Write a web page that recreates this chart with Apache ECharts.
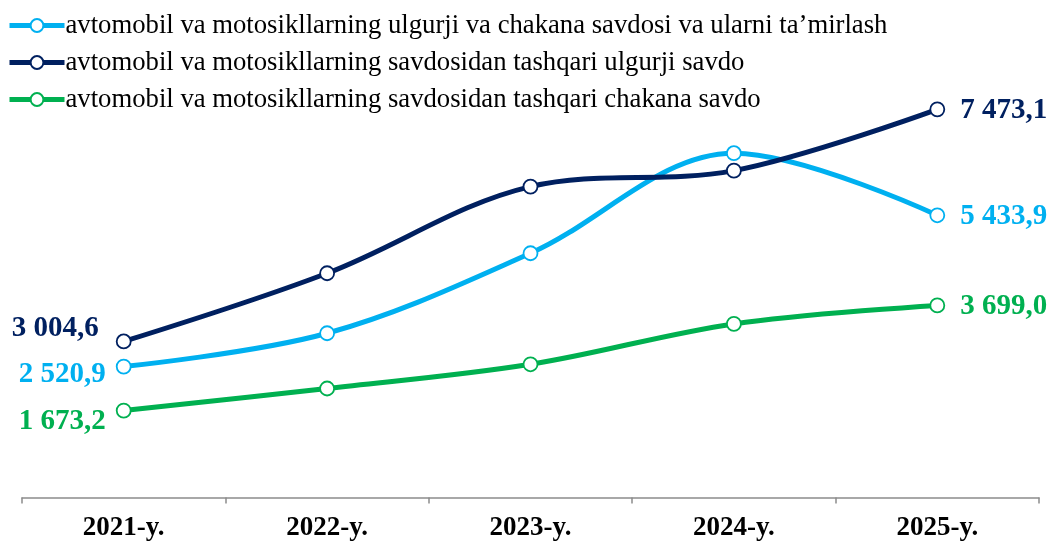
<!DOCTYPE html>
<html><head><meta charset="utf-8">
<script src="https://cdn.jsdelivr.net/npm/echarts@6/dist/echarts.min.js"></script>
<style>html,body{margin:0;padding:0;background:#fff}#c{width:1051px;height:543px}</style>
</head><body><div id="c"></div>
<script>
const categories = ['2021-y.', '2022-y.', '2023-y.', '2024-y.', '2025-y.'];
const seriesNames = [
  'avtomobil va motosikllarning ulgurji va chakana savdosi va ularni ta’mirlash',
  'avtomobil va motosikllarning savdosidan tashqari ulgurji savdo',
  'avtomobil va motosikllarning savdosidan tashqari chakana savdo'
];
const repairValues = [2520.9, 3162, 4703, 6629, 5433.9];
const wholesaleValues = [3004.6, 4318, 5986, 6294, 7473.1];
const retailValues = [1673.2, 2099, 2565, 3342, 3699.0];
const colors = ['#00B0F0', '#002060', '#00B050'];

function fmt(v) {
  const s = v.toFixed(1).split('.');
  return s[0].replace(/\B(?=(\d{3})+(?!\d))/g, ' ') + ',' + s[1];
}
const firstLabelOffsets = [[0, 8], [0, -13], [0, 11]];
const firstLabelDist = [10, 17, 10];
function mkData(vals, k) {
  const color = colors[k];
  return vals.map((v, i) => {
    const d = { value: v };
    if (i === 0 || i === vals.length - 1) {
      d.label = {
        show: true,
        position: i === 0 ? 'left' : 'right',
        distance: i === 0 ? firstLabelDist[k] : 15,
        offset: i === 0 ? firstLabelOffsets[k] : [0, 1],
        formatter: p => fmt(p.value),
        color: color,
        fontFamily: 'Liberation Serif',
        fontWeight: 'bold',
        fontSize: 29
      };
    }
    return d;
  });
}
const allVals = [repairValues, wholesaleValues, retailValues];
const chart = echarts.init(document.getElementById('c'));
chart.setOption({
  animation: false,
  legend: {
    orient: 'vertical',
    left: 2,
    top: 7,
    itemWidth: 55,
    itemHeight: 16,
    itemGap: 10,
    lineStyle: { width: 5 },
    textStyle: { fontFamily: 'Liberation Serif', fontSize: 26.7, lineHeight: 26, color: '#000', padding: [0, 0, 0, -4] },
    data: seriesNames
  },
  grid: { left: 22, right: 12, top: 82, bottom: 45.5, containLabel: false, outerBoundsMode: 'none' },
  xAxis: {
    type: 'category',
    data: categories,
    boundaryGap: true,
    axisLine: { lineStyle: { color: '#8c8c8c', width: 1.5 } },
    axisTick: { show: true, length: 6, lineStyle: { color: '#8c8c8c', width: 1.5 } },
    axisLabel: { fontFamily: 'Liberation Serif', fontWeight: 'bold', fontSize: 27, lineHeight: 27, color: '#000', margin: 17 }
  },
  yAxis: { type: 'value', min: 0, max: 8000, show: false, splitLine: { show: false } },
  series: seriesNames.map((n, k) => ({
    name: n,
    type: 'line',
    smooth: 0.35,
    data: mkData(allVals[k], k),
    symbol: 'circle',
    symbolSize: 14,
    lineStyle: { color: colors[k], width: 5 },
    itemStyle: { color: '#fff', borderColor: colors[k], borderWidth: 1.8 },
    emphasis: { disabled: true },
    z: k === 1 ? 3 : 2
  }))
});
</script></body></html>
